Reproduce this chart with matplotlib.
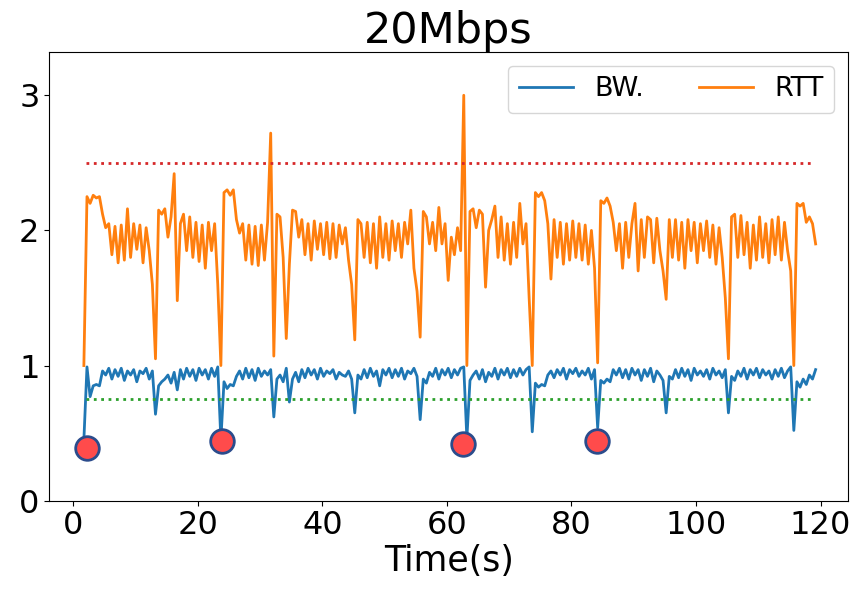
import numpy as np
import matplotlib
matplotlib.use("Agg")
import matplotlib.pyplot as plt

# RTT (s), sampled every 0.5 s
rtt = [
    1.00, 2.25, 2.20, 2.26, 2.24, 2.25, 2.12, 2.02, 2.05, 1.82, 2.03, 1.76, 2.04, 1.78, 2.16, 1.80, 2.05, 1.86, 2.04, 1.76,
    2.02, 1.85, 1.60, 1.05, 2.15, 2.12, 2.16, 1.95, 2.10, 2.42, 1.48, 2.05, 2.12, 1.85, 2.10, 1.80, 2.06, 1.77, 2.04, 1.72,
    2.06, 1.85, 2.05, 1.60, 1.00, 2.28, 2.30, 2.26, 2.30, 2.08, 1.98, 2.05, 1.78, 2.04, 1.75, 2.03, 1.74, 2.04, 1.78, 2.06,
    2.72, 1.07, 2.12, 2.10, 1.80, 1.20, 1.75, 2.15, 2.14, 1.95, 2.08, 1.82, 2.05, 1.78, 2.07, 1.86, 2.05, 1.82, 2.06, 1.79,
    2.05, 1.80, 2.04, 1.90, 2.02, 1.78, 1.60, 1.19, 2.08, 2.05, 1.80, 2.06, 1.76, 2.05, 1.72, 2.10, 1.80, 2.05, 1.78, 2.07,
    1.85, 2.05, 1.80, 2.06, 1.90, 2.15, 1.72, 1.55, 1.21, 2.14, 2.10, 1.90, 2.06, 1.85, 2.17, 1.90, 2.05, 1.63, 1.95, 1.82,
    2.02, 1.85, 3.00, 1.00, 2.14, 2.16, 2.02, 2.15, 2.12, 1.58, 2.00, 2.08, 2.18, 1.80, 2.10, 1.78, 2.05, 1.75, 2.06, 1.80,
    2.20, 1.90, 2.05, 1.50, 1.00, 2.28, 2.25, 2.28, 2.22, 2.05, 1.64, 2.08, 1.80, 2.06, 1.75, 2.05, 1.78, 2.07, 1.80, 2.05,
    1.78, 2.04, 1.75, 2.00, 1.72, 1.02, 2.22, 2.20, 2.24, 2.18, 2.06, 1.85, 2.05, 1.72, 2.06, 1.80, 2.05, 2.20, 1.70, 2.08,
    1.80, 2.10, 2.08, 1.76, 2.09, 1.85, 1.70, 1.49, 2.08, 1.80, 2.08, 1.78, 2.06, 1.72, 2.08, 1.85, 2.06, 1.76, 2.05, 1.85,
    2.07, 1.80, 2.04, 1.75, 2.02, 1.80, 1.50, 1.05, 2.10, 2.12, 1.80, 2.11, 1.82, 2.06, 1.72, 2.04, 1.78, 2.10, 1.80, 2.05,
    1.76, 2.08, 1.82, 2.10, 1.78, 2.06, 1.85, 1.70, 1.00, 2.20, 2.18, 2.20, 2.06, 2.10, 2.05, 1.90,
]

# normalised bandwidth, same sampling
bw = [
    0.45, 0.99, 0.77, 0.85, 0.86, 0.85, 0.96, 0.93, 0.98, 0.90, 0.97, 0.92, 0.98, 0.89, 0.96, 0.93, 0.97, 0.88, 0.96, 0.94,
    0.98, 0.90, 0.96, 0.64, 0.85, 0.88, 0.90, 0.93, 0.87, 0.95, 0.82, 0.97, 0.90, 0.98, 0.92, 0.97, 0.89, 0.98, 0.93, 0.97,
    0.90, 0.98, 0.92, 0.99, 0.45, 0.88, 0.83, 0.86, 0.85, 0.92, 0.96, 0.90, 0.98, 0.91, 0.97, 0.89, 0.98, 0.92, 0.96, 0.93,
    0.97, 0.62, 0.90, 0.93, 0.88, 0.98, 0.73, 0.90, 0.95, 0.88, 0.97, 0.91, 0.98, 0.93, 0.97, 0.90, 0.98, 0.92, 0.96, 0.94,
    0.97, 0.90, 0.95, 0.93, 0.92, 0.96, 0.90, 0.65, 0.93, 0.90, 0.97, 0.91, 0.98, 0.92, 0.96, 0.85, 0.97, 0.93, 0.98, 0.91,
    0.97, 0.92, 0.98, 0.90, 0.96, 0.94, 0.98, 0.92, 0.60, 0.90, 0.87, 0.95, 0.92, 0.98, 0.90, 0.97, 0.93, 0.98, 0.91, 0.97,
    0.93, 0.98, 0.99, 0.46, 0.89, 0.93, 0.96, 0.90, 0.97, 0.88, 0.95, 0.92, 0.98, 0.90, 0.97, 0.93, 0.98, 0.91, 0.97, 0.92,
    0.98, 0.93, 0.97, 0.99, 0.51, 0.87, 0.84, 0.86, 0.85, 0.93, 0.96, 0.91, 0.97, 0.93, 0.98, 0.90, 0.97, 0.94, 0.98, 0.92,
    0.96, 0.93, 0.98, 0.90, 0.97, 0.54, 0.89, 0.87, 0.90, 0.88, 0.97, 0.93, 0.98, 0.91, 0.97, 0.90, 0.98, 0.93, 0.97, 0.89,
    0.97, 0.92, 0.98, 0.88, 0.96, 0.93, 0.89, 0.65, 0.92, 0.90, 0.97, 0.91, 0.98, 0.92, 0.97, 0.89, 0.98, 0.93, 0.96, 0.92,
    0.97, 0.90, 0.98, 0.93, 0.96, 0.91, 0.97, 0.65, 0.92, 0.89, 0.96, 0.92, 0.98, 0.90, 0.97, 0.93, 0.98, 0.91, 0.97, 0.93,
    0.96, 0.90, 0.97, 0.92, 0.98, 0.91, 0.96, 0.99, 0.52, 0.88, 0.84, 0.90, 0.86, 0.93, 0.90, 0.97,
]

t_start = 1.7
dt = 0.5

# restart points (red circles)
restart_t = [2.2, 23.8, 62.6, 84.1]
restart_v = [0.39, 0.44, 0.42, 0.44]

rtt_limit = 2.5
bw_limit = 0.75

t = t_start + dt * np.arange(len(rtt))

fig = plt.figure(figsize=(8.59, 5.89), dpi=100)
ax = fig.add_axes([0.0574, 0.1499, 0.9298, 0.7618])

ax.plot(t, bw, color="tab:blue", lw=2, label="BW.")
ax.plot(t, rtt, color="tab:orange", lw=2, label="RTT")
ax.plot([t[0] + 0.3, t[-1] - 0.8], [rtt_limit, rtt_limit], ":", color="tab:red", lw=2)
ax.plot([t[0] + 0.3, t[-1] - 0.8], [bw_limit, bw_limit], ":", color="tab:green", lw=2)
ax.plot(restart_t, restart_v, "o", ms=17, mfc="#ff4b4b", mec="#2b4c8c", mew=2, ls="none")

ax.set_xlim(-3.85, 124.4)
ax.set_ylim(0, 3.32)
ax.set_xticks([0, 20, 40, 60, 80, 100, 120])
ax.set_yticks([0, 1, 2, 3])
ax.tick_params(labelsize=23)
ax.set_xlabel("Time(s)", fontsize=25, labelpad=2)
ax.set_title("20Mbps", fontsize=31)
ax.legend(loc="upper right", ncol=2, fontsize=19.5)

fig.savefig("out.png", dpi=100)
